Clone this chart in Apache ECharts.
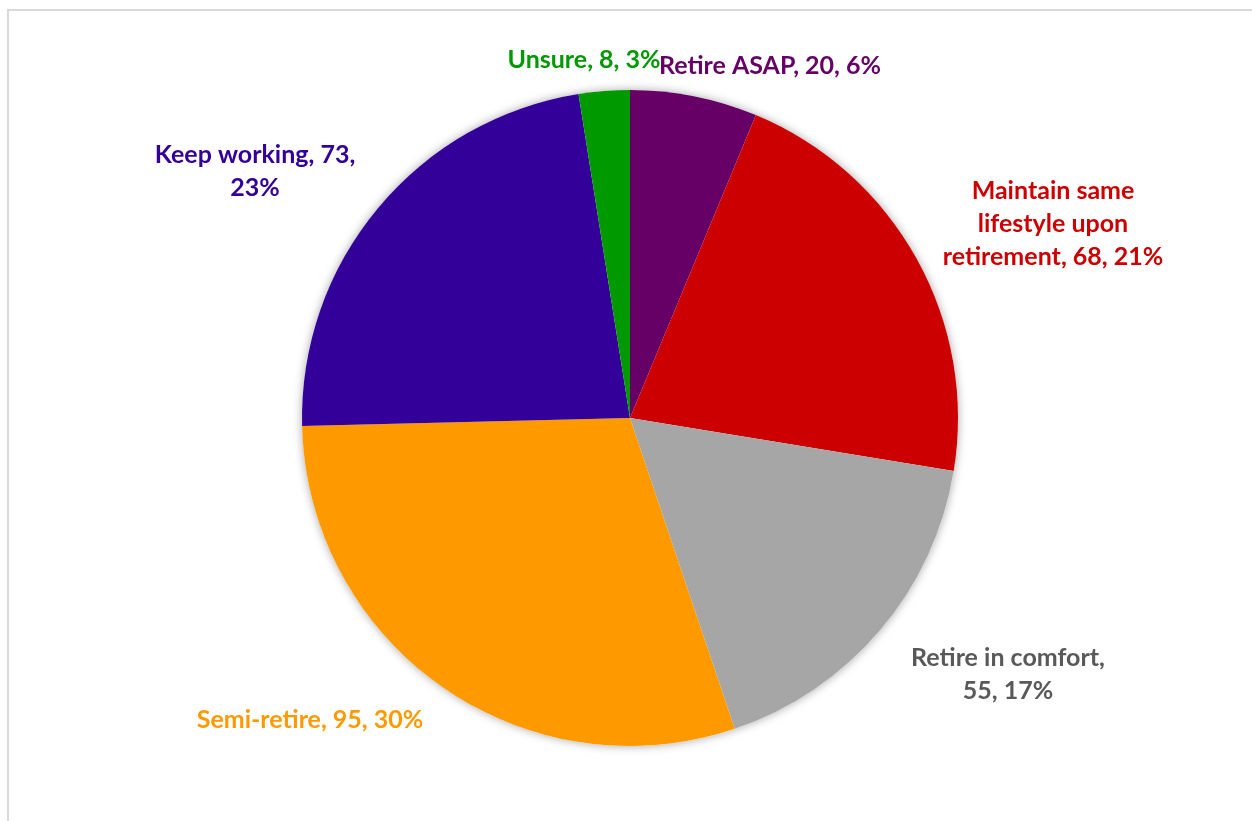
<!DOCTYPE html>
<html>
<head>
<meta charset="utf-8">
<title>Retirement plans</title>
<script src="https://cdn.jsdelivr.net/npm/echarts@6/dist/echarts.min.js"></script>
<style>
  html, body { margin: 0; padding: 0; background: #fff; }
  #frame {
    position: absolute; left: 7px; top: 9px; width: 1260px; height: 830px;
    border: 2px solid #d9d9d9; box-sizing: border-box; pointer-events: none;
  }
  #chart { position: absolute; left: 0; top: 0; width: 1252px; height: 821px; }
</style>
</head>
<body>
<div id="chart"></div>
<div id="frame"></div>
<script>
// Responses, clockwise from twelve o'clock
const categories = [
  'Retire ASAP',
  'Maintain same lifestyle upon retirement',
  'Retire in comfort',
  'Semi-retire',
  'Keep working',
  'Unsure'
];
const counts = [20, 68, 55, 95, 73, 8];
const sliceColors = ['#660066', '#CC0000', '#A6A6A6', '#FF9900', '#330099', '#009900'];
const labelColors = ['#660066', '#CC0000', '#595959', '#FF9900', '#330099', '#009900'];

const center = [630, 418];
const radius = 328;

// Where each data label sits (label centre)
const labelSpots = [
  [770, 66], [1053, 224], [1008, 674], [310, 720], [255, 171], [584, 60]
];

// Split long labels over several lines
function labelText(p) {
  const pct = Math.round(p.percent) + '%';
  switch (p.dataIndex) {
    case 1: return 'Maintain same\nlifestyle upon\nretirement, ' + p.value + ', ' + pct;
    case 2: return p.name + ',\n' + p.value + ', ' + pct;
    case 4: return p.name + ', ' + p.value + ',\n' + pct;
    default: return p.name + ', ' + p.value + ', ' + pct;
  }
}

const chart = echarts.init(document.getElementById('chart'), null, { renderer: 'canvas' });
chart.setOption({
  animation: false,
  backgroundColor: 'transparent',
  series: [
    {
      // soft shadow under the whole pie
      type: 'pie',
      silent: true,
      center: center,
      radius: radius,
      z: 1,
      label: { show: false },
      labelLine: { show: false },
      itemStyle: {
        color: '#ffffff',
        shadowBlur: 10,
        shadowColor: 'rgba(0,0,0,0.35)'
      },
      data: [{ value: 1, name: '' }]
    },
    {
      type: 'pie',
      center: center,
      radius: radius,
      startAngle: 90,
      clockwise: true,
      z: 2,
      avoidLabelOverlap: false,
      itemStyle: { borderWidth: 0 },
      labelLine: { show: false },
      label: {
        show: true,
        position: 'inside',
        formatter: labelText,
        fontFamily: 'Lato',
        fontWeight: 'bold',
        fontSize: 25,
        lineHeight: 33,
        align: 'center',
        verticalAlign: 'middle'
      },
      labelLayout: function (params) {
        const s = labelSpots[params.dataIndex];
        return { x: s[0], y: s[1], align: 'center', verticalAlign: 'middle' };
      },
      emphasis: { disabled: true },
      data: categories.map(function (name, i) {
        return {
          name: name,
          value: counts[i],
          itemStyle: { color: sliceColors[i] },
          label: { color: labelColors[i] }
        };
      })
    }
  ]
});
</script>
</body>
</html>
